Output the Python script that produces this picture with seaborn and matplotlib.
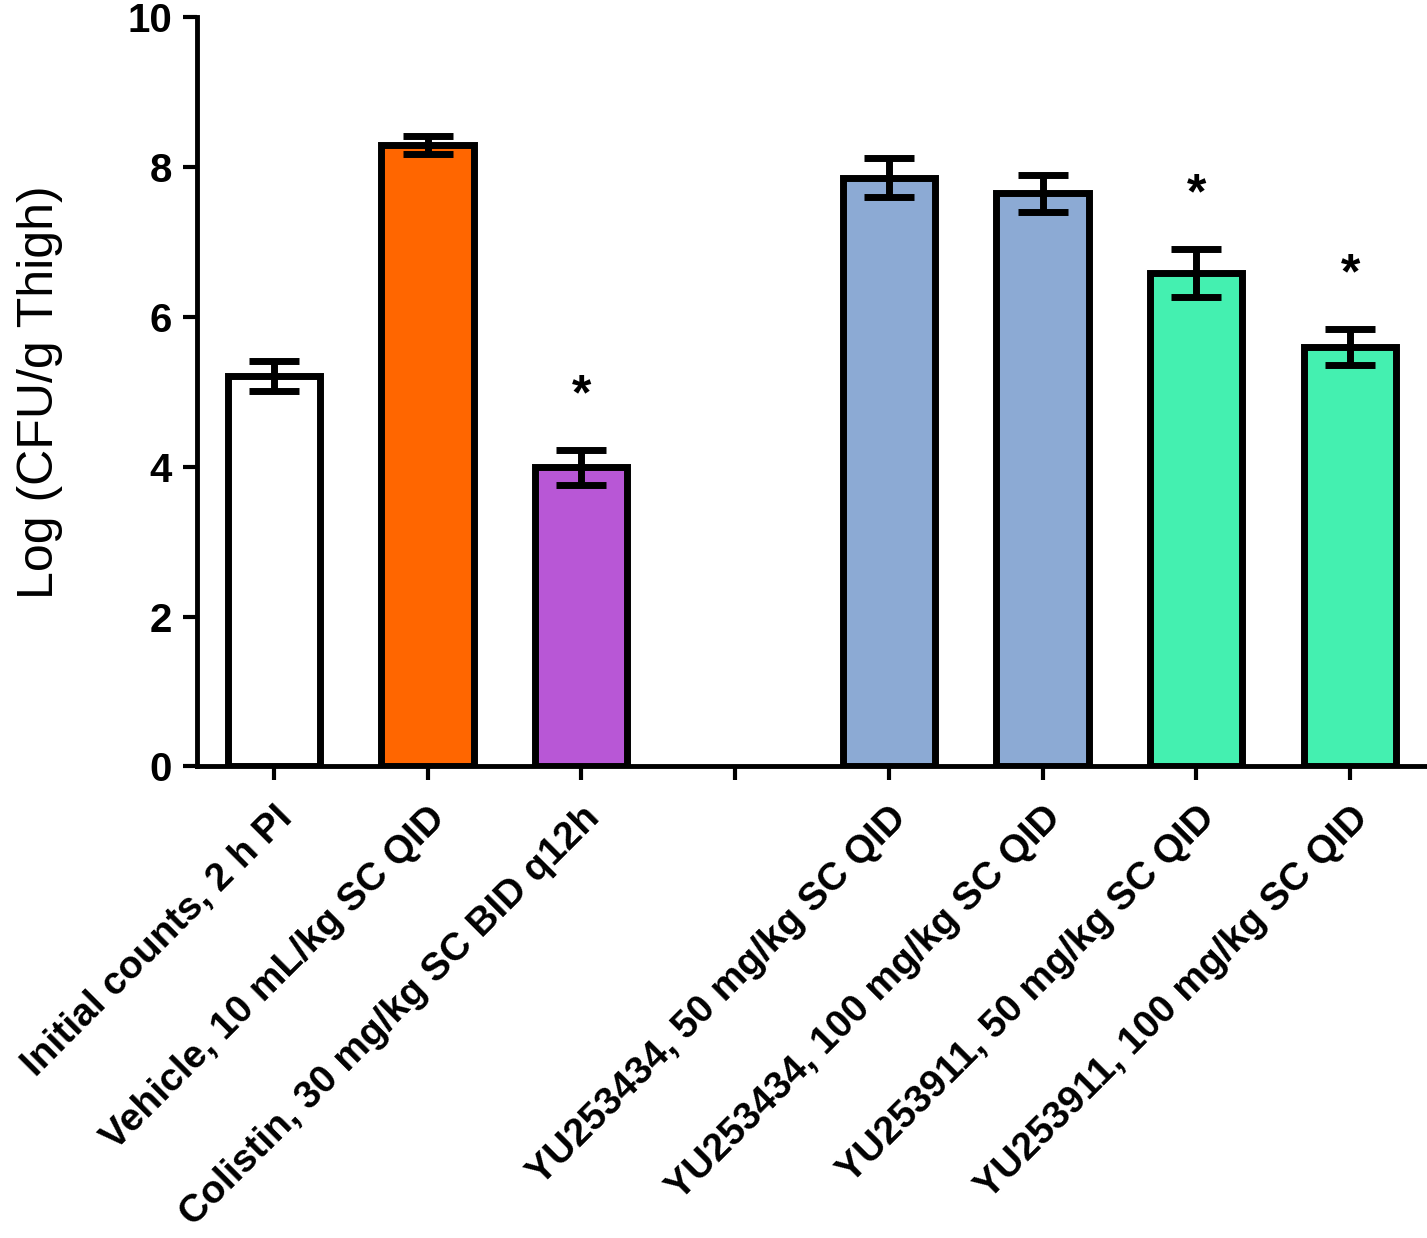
import numpy as np
import pandas as pd
import matplotlib
matplotlib.use("Agg")
import matplotlib.pyplot as plt
import seaborn as sns

# values (the blank slot is the gap between groups)
groups = ["Initial counts, 2 h PI",
          "Vehicle, 10 mL/kg SC QID",
          "Colistin, 30 mg/kg SC BID q12h",
          "",
          "YU253434, 50 mg/kg SC QID",
          "YU253434, 100 mg/kg SC QID",
          "YU253911, 50 mg/kg SC QID",
          "YU253911, 100 mg/kg SC QID"]
log_cfu = [5.21, 8.29, 3.99, np.nan, 7.86, 7.65, 6.59, 5.60]
sem = [0.20, 0.12, 0.23, np.nan, 0.26, 0.25, 0.32, 0.24]
significant = [False, False, True, False, False, False, True, True]
bar_colors = ["#FFFFFF", "#FF6600", "#B857D6", "#FFFFFF",
              "#8CAAD4", "#8CAAD4", "#44F0B0", "#44F0B0"]

sns.set_style("ticks", {"axes.edgecolor": "black", "xtick.color": "black",
                        "ytick.color": "black", "text.color": "black",
                        "axes.labelcolor": "black"})
plt.rcParams["font.family"] = ["Liberation Sans", "DejaVu Sans"]

df = pd.DataFrame({"group": groups, "value": log_cfu})

fig = plt.figure(figsize=(14.27, 12.38), dpi=100)
ax = fig.add_axes([0.138, 0.381, 0.862, 0.605])

sns.barplot(data=df, x="group", y="value", order=groups, hue="group",
            hue_order=groups, palette=bar_colors, legend=False,
            width=0.6, edgecolor="black", linewidth=5, errorbar=None,
            saturation=1, ax=ax)

pos = np.arange(len(groups))
ax.errorbar(pos, log_cfu, yerr=sem, fmt="none", ecolor="black",
            elinewidth=5, capsize=18, capthick=5, zorder=5)

for i, (m, s, sig) in enumerate(zip(log_cfu, sem, significant)):
    if sig:
        ax.text(i, m + s + 0.72, "*", ha="center", va="center",
                fontsize=36, fontweight="bold")

ax.set_ylim(0, 10)
ax.set_xlim(-0.5, 7.5)
ax.set_yticks([0, 2, 4, 6, 8, 10])
ax.set_xticks(pos)
ax.set_xticklabels(groups, rotation=45, ha="right", rotation_mode="anchor",
                   fontsize=28, fontweight="bold")
for lab in ax.get_yticklabels():
    lab.set_fontsize(29)
    lab.set_fontweight("bold")
ax.set_xlabel("")
ax.set_ylabel("Log (CFU/g Thigh)", fontsize=36, labelpad=46)

sns.despine(ax=ax)
for side in ["left", "bottom"]:
    ax.spines[side].set_linewidth(3.5)
ax.tick_params(axis="both", width=3, length=10, color="black")
ax.tick_params(axis="y", pad=8)
ax.tick_params(axis="x", pad=14)

fig.savefig("out.png", dpi=100)
